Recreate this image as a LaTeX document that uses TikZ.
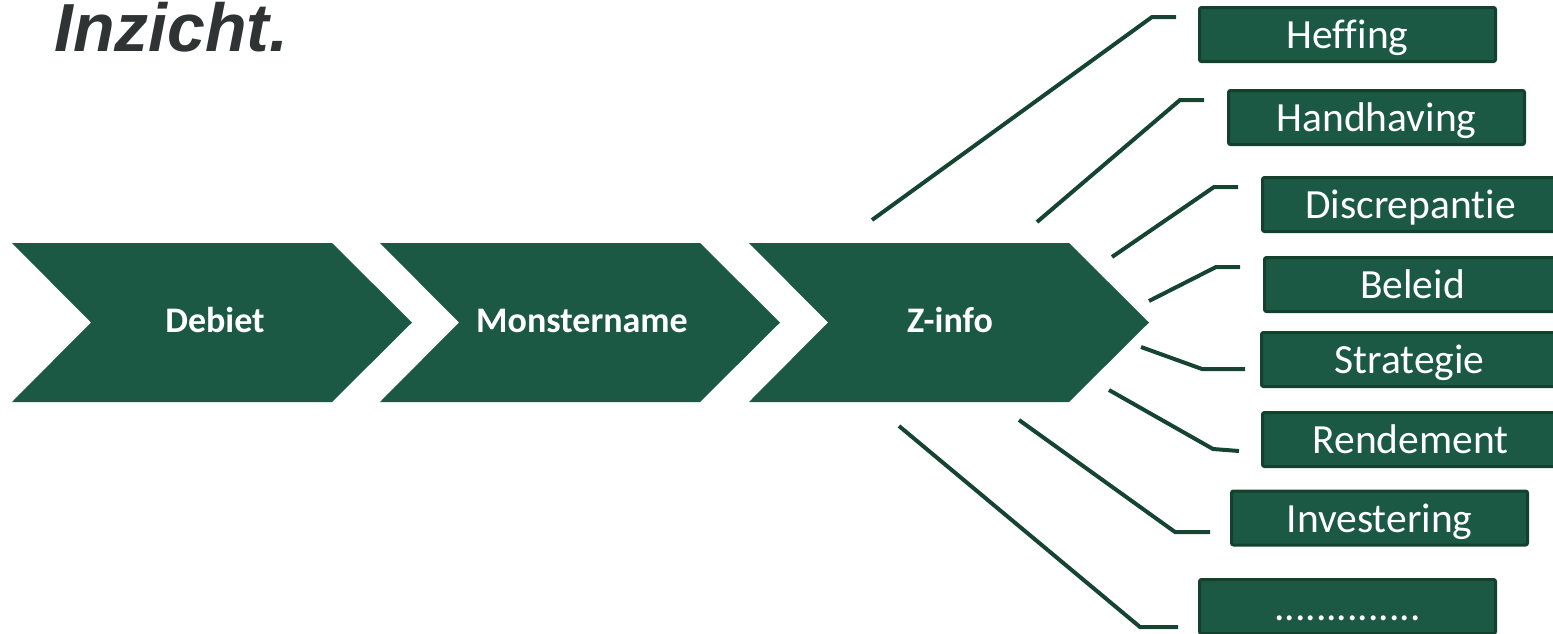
\documentclass[tikz,border=0pt]{standalone}
\usepackage{fontspec}
\setmainfont[Ligatures=NoCommon]{Carlito}
\newfontfamily\titlefont{Liberation Sans}
\definecolor{chev}{RGB}{27,89,69}
\definecolor{lnk}{RGB}{22,68,50}
\definecolor{bord}{RGB}{20,64,48}
\definecolor{ttl}{RGB}{47,51,51}
\begin{document}
\begin{tikzpicture}[x=1pt,y=-1pt,
  chevshape/.style={fill=chev},
  chevtext/.style={text=white, font=\bfseries\fontsize{36}{40}\selectfont, inner sep=0pt, text height=20pt, text depth=0pt},
  infobox/.style={draw=bord, fill=chev, line width=3pt, rounded corners=2pt, minimum width=296pt, minimum height=54pt, inner sep=0pt, text=white, font=\fontsize{41.5}{46}\selectfont, text height=28pt, text depth=0pt},
  link/.style={draw=lnk, line width=4pt}]
\useasboundingbox (0,0) rectangle (1553,633);

% title
\node[anchor=base west, inner sep=0pt, text=ttl, font=\titlefont\bfseries\itshape\fontsize{68}{72}\selectfont] (title) at (54,51) {Inzicht.};

% chevrons
\foreach \L in {12,380,749}{
  \fill[chevshape] (\L,243) -- ++(320,0) -- ++(80,79.5) -- ++(-80,79.5) -- ++(-320,0) -- ++(79,-79.5) -- cycle;
}
\node[chevtext] (debiet) at (215,322) {Debiet};
\node[chevtext] (monster) at (582,322) {Monstername};
\node[chevtext] (zinfo) at (950,322) {Z-info};

% boxes
\node[infobox] (heffing) at (1347.5,34.5) {Heffing};
\node[infobox] (handhaving) at (1376.5,117.5) {Handhaving};
\node[infobox] (discrepantie) at (1410.5,204.5) {Discrepantie};
\node[infobox] (beleid) at (1412.5,284.5) {Beleid};
\node[infobox] (strategie) at (1409.5,359.5) {Strategie};
\node[infobox] (rendement) at (1410.5,439.5) {Rendement};
\node[infobox] (investering) at (1379.5,518) {Investering};
\node[infobox] (dots) at (1347.5,606.5) {..............};

% connector points
\coordinate (s1) at (872,220);  \coordinate (k1) at (1152,17);  \coordinate (e1) at (1176,17);
\coordinate (s2) at (1037,222); \coordinate (k2) at (1180,100); \coordinate (e2) at (1204,100);
\coordinate (s3) at (1112,257); \coordinate (k3) at (1214,187); \coordinate (e3) at (1238,187);
\coordinate (s4) at (1149,301); \coordinate (k4) at (1216,267); \coordinate (e4) at (1240,267);
\coordinate (s5) at (1141,347); \coordinate (k5) at (1202,369); \coordinate (e5) at (1245,369);
\coordinate (s6) at (1109,390); \coordinate (k6) at (1213,449); \coordinate (e6) at (1239,451);
\coordinate (s7) at (1019,420); \coordinate (k7) at (1175,532); \coordinate (e7) at (1210,532);
\coordinate (s8) at (899,426);  \coordinate (k8) at (1140,627); \coordinate (e8) at (1178,627);

\foreach \i in {1,...,8}{
  \draw[link] (s\i) -- (k\i) -- (e\i);
}
\end{tikzpicture}
\end{document}
